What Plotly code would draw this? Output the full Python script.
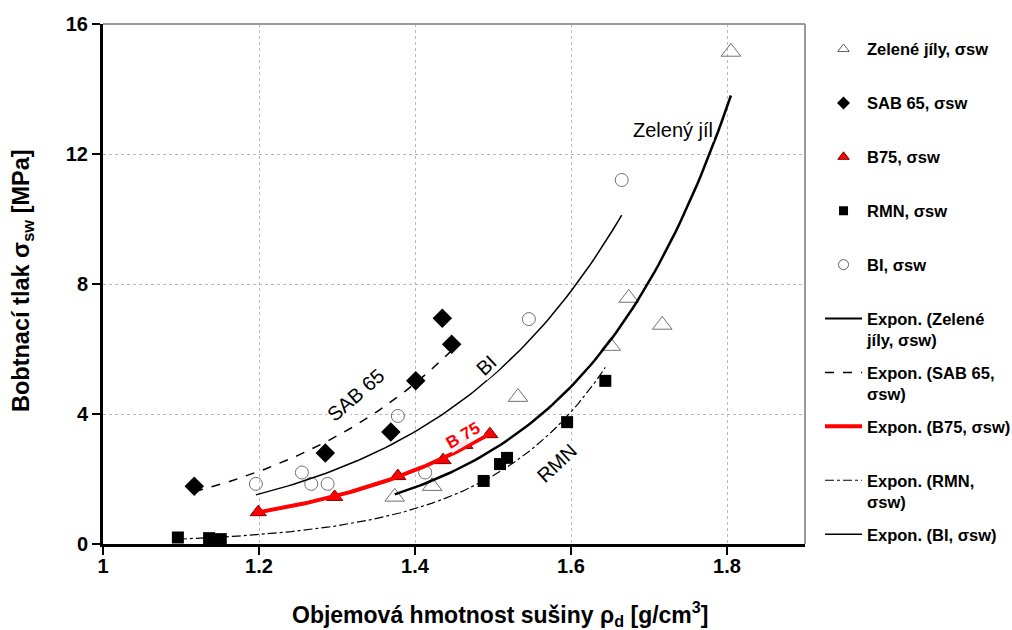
import numpy as np
import plotly.graph_objects as go

# ---- data ----
zel_x = [1.374, 1.422, 1.532, 1.651, 1.674, 1.717, 1.805]
zel_y = [1.45, 1.78, 4.52, 6.09, 7.57, 6.74, 15.14]
sab_x = [1.117, 1.285, 1.369, 1.401, 1.435, 1.447]
sab_y = [1.78, 2.80, 3.45, 5.02, 6.95, 6.15]
b75_x = [1.199, 1.297, 1.378, 1.436, 1.464, 1.496]
b75_y = [0.98, 1.45, 2.09, 2.58, 3.05, 3.38]
rmn_x = [1.096, 1.136, 1.151, 1.488, 1.509, 1.518, 1.595, 1.644]
rmn_y = [0.20, 0.18, 0.15, 1.94, 2.46, 2.65, 3.75, 5.02]
bi_x = [1.196, 1.255, 1.267, 1.288, 1.378, 1.413, 1.546, 1.665]
bi_y = [1.85, 2.20, 1.85, 1.85, 3.94, 2.20, 6.92, 11.20]

x_ticks = [1, 1.2, 1.4, 1.6, 1.8]
y_ticks = [0, 4, 8, 12, 16]

FONT = "Arial, Liberation Sans, sans-serif"
NB = "\u00a0"


def expon(x, y, n=80):
    """Excel-style exponential trendline (least squares on ln y)."""
    b, ln_a = np.polyfit(np.array(x), np.log(np.array(y)), 1)
    xs = np.linspace(min(x), max(x), n)
    return xs, np.exp(ln_a) * np.exp(b * xs)


fig = go.Figure()

# data markers (not in legend)
series = [
    (zel_x, zel_y, dict(symbol="triangle-up-open", size=17, color="#707070", line=dict(width=1, color="#707070"))),
    (sab_x, sab_y, dict(symbol="diamond", size=15, color="black")),
    (b75_x, b75_y, dict(symbol="triangle-up", size=14, color="#ff0000", line=dict(width=1, color="#7a0000"))),
    (rmn_x, rmn_y, dict(symbol="square", size=12, color="black")),
    (bi_x, bi_y, dict(symbol="circle-open", size=13, color="#707070", line=dict(width=1, color="#707070"))),
]
for sx, sy, mk in series:
    fig.add_trace(go.Scatter(x=sx, y=sy, mode="markers", marker=mk, showlegend=False,
                             hoverinfo="x+y"))

# trendlines
trends = [
    (zel_x, zel_y, dict(color="black", width=2.5, dash="solid")),
    (sab_x, sab_y, dict(color="black", width=1.5, dash="dash")),
    (b75_x, b75_y, dict(color="#ff0000", width=4, dash="solid")),
    (rmn_x, rmn_y, dict(color="black", width=1.2, dash="dashdot")),
    (bi_x, bi_y, dict(color="black", width=1.5, dash="solid")),
]
for tx, ty, ln in trends:
    xs, ys = expon(tx, ty)
    fig.add_trace(go.Scatter(x=xs, y=ys, mode="lines", line=ln, showlegend=False, hoverinfo="skip"))

# legend-only entries
leg_markers = [
    ("Zelené jíly, σsw<br>" + NB, dict(symbol="triangle-up-open", size=10, color="#606060", line=dict(width=1, color="#606060"))),
    ("SAB 65, σsw<br>" + NB, dict(symbol="diamond", size=10, color="black")),
    ("B75, σsw<br>" + NB, dict(symbol="triangle-up", size=10, color="#ff0000", line=dict(width=1, color="#7a0000"))),
    ("RMN, σsw<br>" + NB, dict(symbol="square", size=9, color="black")),
    ("BI, σsw<br>" + NB, dict(symbol="circle-open", size=10, color="#606060", line=dict(width=1, color="#606060"))),
]
for i, (name, mk) in enumerate(leg_markers):
    fig.add_trace(go.Scatter(x=[None], y=[None], mode="markers", marker=mk, name=name,
                             legendgroup=f"m{i}", showlegend=True))

leg_lines = [
    ("Expon. (Zelené<br>jíly, σsw)", dict(color="black", width=2, dash="solid")),
    ("Expon. (SAB 65,<br>σsw)", dict(color="black", width=1.5, dash="dash")),
    ("Expon. (B75, σsw)<br>" + NB, dict(color="#ff0000", width=4, dash="solid")),
    ("Expon. (RMN,<br>σsw)", dict(color="black", width=1.2, dash="dashdot")),
    ("Expon. (BI, σsw)<br>" + NB, dict(color="black", width=1.5, dash="solid")),
]
for i, (name, ln) in enumerate(leg_lines):
    fig.add_trace(go.Scatter(x=[None], y=[None], mode="lines", line=ln, name=name,
                             legendgroup=f"l{i}", showlegend=True))

annos = [
    dict(x=1.7308, y=12.74, text="Zelený jíl", textangle=0, font=dict(size=20, color="black")),
    dict(x=1.324, y=4.58, text="SAB 65", textangle=-41, font=dict(size=20, color="black")),
    dict(x=1.492, y=5.5, text="BI", textangle=-43, font=dict(size=20, color="black")),
    dict(x=1.4615, y=3.35, text="<b>B 75</b>", textangle=-30, font=dict(size=17, color="#ff0000")),
    dict(x=1.582, y=2.49, text="RMN", textangle=-43, font=dict(size=20, color="black")),
]
for a in annos:
    fig.add_annotation(xref="x", yref="y", showarrow=False, bgcolor="rgba(255,255,255,0.9)",
                       borderpad=0, **a)

# axis titles
fig.add_annotation(xref="paper", yref="paper", x=0.5655, y=-0.1346, yanchor="middle",
                   text="Objemová hmotnost sušiny ρ<sub>d</sub> [g/cm<sup>3</sup>]",
                   showarrow=False, font=dict(size=23, color="black", weight="bold"))
fig.add_annotation(xref="paper", yref="paper", x=-0.1147, y=0.5067, xanchor="center",
                   text="Bobtnací tlak σ<sub>sw</sub> [MPa]", textangle=-90,
                   showarrow=False, font=dict(size=23.5, color="black", weight="bold"))

# gray top/right frame
fig.add_shape(type="line", xref="paper", yref="paper", x0=0, x1=1, y0=1, y1=1,
              line=dict(color="#999999", width=2))
fig.add_shape(type="line", xref="paper", yref="paper", x0=1, x1=1, y0=0, y1=1,
              line=dict(color="#999999", width=2))

fig.update_layout(
    width=1012, height=630,
    margin=dict(l=103, r=207, t=24, b=86, autoexpand=False),
    paper_bgcolor="white", plot_bgcolor="white",
    font=dict(family=FONT, color="black"),
    xaxis=dict(range=[1, 1.9], tickvals=x_ticks, ticktext=[str(v) for v in x_ticks],
               showgrid=True, gridcolor="#b8b8b8", griddash="dot", gridwidth=1,
               showline=True, linecolor="black", linewidth=3, zeroline=False,
               ticks="outside", ticklen=8, tickwidth=2, tickcolor="black",
               ticklabelstandoff=-6,
               tickfont=dict(size=20, weight="bold"), automargin=False),
    yaxis=dict(range=[0, 16], tickvals=y_ticks,
               showgrid=True, gridcolor="#b8b8b8", griddash="dot", gridwidth=1,
               showline=True, linecolor="black", linewidth=3, zeroline=False,
               ticks="outside", ticklen=8, tickwidth=2, tickcolor="black",
               tickfont=dict(size=20, weight="bold"), automargin=False),
    legend=dict(x=1.0214, y=0.985, xanchor="left", yanchor="top",
                font=dict(size=16.5, weight="bold", color="black"),
                bgcolor="rgba(0,0,0,0)", tracegroupgap=8, valign="top",
                traceorder="grouped", itemwidth=37),
    showlegend=True,
)

fig.write_html("out.html")
